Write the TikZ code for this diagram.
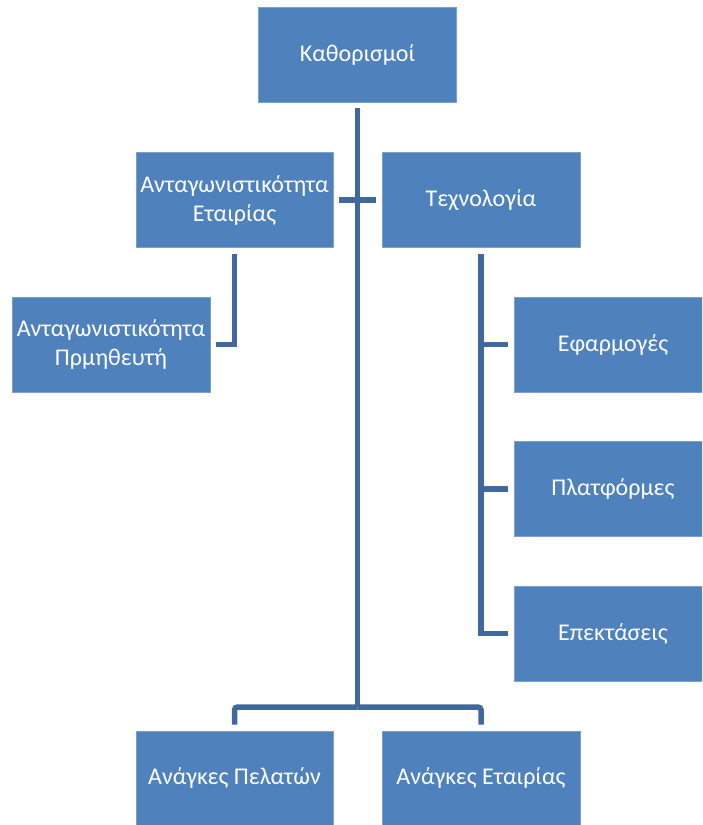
\documentclass[tikz,border=0pt]{standalone}
\usepackage{fontspec}
\setmainfont{Carlito}
\usepackage{xcolor}
\definecolor{boxblue}{HTML}{4F81BD}
\definecolor{linkblue}{HTML}{41689E}
\usetikzlibrary{positioning}

\tikzset{
    block/.style={fill=boxblue, draw=boxblue!75!white, line width=0.6pt,
        text=white, font=\fontsize{24}{29}\selectfont, align=center,
        minimum width=198pt, minimum height=95pt, inner sep=2pt},
    link/.style={draw=linkblue, line width=5.5pt, shorten <=6pt, shorten >=6pt}
}

\begin{document}
\begin{tikzpicture}[x=1pt, y=-1pt]
    \useasboundingbox (0,0) rectangle (702,825);
    \clip (0,0) rectangle (702,825);

    % Root
    \node[block] (defs) at (357.5,54.5) {Καθορισμοί};

    % Second level
    \node[block, minimum width=197pt] (comp) at (234.5,200) {Ανταγωνιστικότητα\\Εταιρίας};
    \node[block] (tech) at (481,200) {Τεχνολογία};

    % Supplier under company
    \node[block] (supp) at (111,344.5) {Ανταγωνιστικότητα\\Πρμηθευτή};

    % Technology children (run past the right edge)
    \node[block] (apps) at (613,344.5) {Εφαρμογές};
    \node[block] (plat) at (613,489) {Πλατφόρμες};
    \node[block] (ext)  at (613,633.5) {Επεκτάσεις};

    % Needs at the bottom
    \node[block, minimum width=197pt, minimum height=94pt] (cust) at (234.5,778) {Ανάγκες Πελατών};
    \node[block, minimum height=94pt] (needs) at (481,778) {Ανάγκες Εταιρίας};

    \coordinate (fork) at (357.5,707);

    % Trunk and cross bar
    \draw[link, shorten >=0pt] (defs.south) -- (fork);
    \draw[link] (comp.east) -- (tech.west);

    % Company -> supplier
    \draw[link, line join=miter] (comp.south) |- (supp.east);

    % Technology -> children
    \draw[link, line join=miter] (tech.south) |- (ext.west);
    \foreach \n in {apps, plat} {
        \draw[link, shorten <=0pt] (tech.south |- \n.west) -- (\n.west);
    }

    % Bottom branches
    \draw[link, shorten <=0pt, rounded corners=3pt] (fork) -| (cust.north);
    \draw[link, shorten <=0pt, rounded corners=3pt] (fork) -| (needs.north);
\end{tikzpicture}
\end{document}
